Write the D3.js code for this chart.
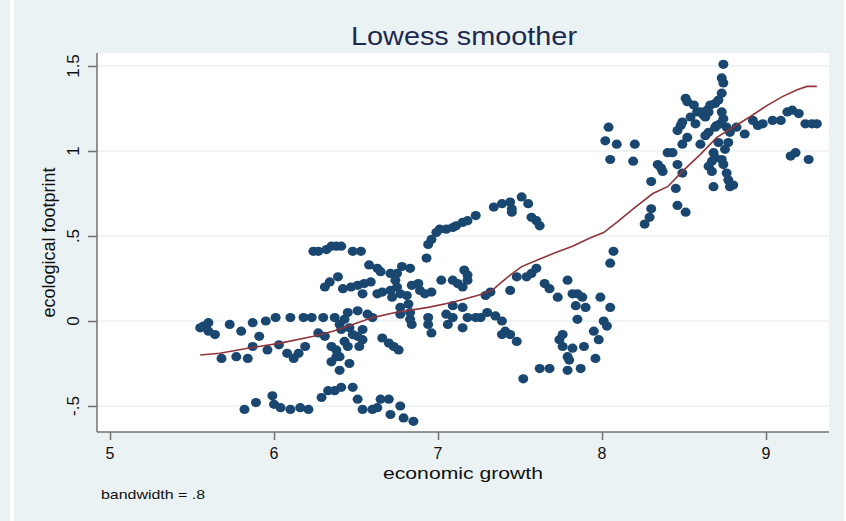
<!DOCTYPE html>
<html>
<head>
<meta charset="utf-8">
<script src="https://cdn.jsdelivr.net/npm/d3@7"></script>
<style>
  html, body { margin: 0; padding: 0; background: #eaf2f3; }
  svg { display: block; font-family: "Liberation Sans", Arial, sans-serif; }
</style>
</head>
<body>
<svg id="chart" width="846" height="521"></svg>
<script>
// ---- data ----
const chartTitle = "Lowess smoother";
const xLabel = "economic growth";
const yLabel = "ecological footprint";
const note = "bandwidth = .8";

const xTicks = [5, 6, 7, 8, 9];
const xTickLabels = ["5", "6", "7", "8", "9"];
const yTicks = [-0.5, 0, 0.5, 1, 1.5];
const yTickLabels = ["-.5", "0", ".5", "1", "1.5"];

// economic growth (x) of each observation
const economicGrowth = [
  5.55,5.57,5.60,5.60,5.64,5.73,5.80,5.87,5.95,6.01,
  6.10,6.18,6.23,6.30,6.37,6.45,6.51,6.57,6.60,5.68,
  5.77,5.84,5.87,5.91,5.96,6.03,6.08,6.12,6.15,6.19,
  5.82,5.89,5.99,6.00,6.04,6.10,6.16,6.21,6.29,6.33,
  6.37,6.41,6.48,6.51,6.54,6.60,6.63,6.65,6.70,6.71,
  6.77,6.79,6.85,6.24,6.27,6.32,6.35,6.38,6.41,6.48,
  6.53,6.58,6.63,6.65,6.71,6.78,6.83,6.31,6.34,6.39,
  6.42,6.47,6.51,6.55,6.59,6.54,6.63,6.66,6.71,6.72,
  6.75,6.77,6.81,6.84,6.75,6.74,6.88,6.89,6.92,6.96,
  7.02,7.09,7.12,7.15,7.16,7.18,7.18,6.27,6.31,6.35,
  6.40,6.43,6.46,6.48,6.43,6.45,6.51,6.54,6.54,6.52,
  6.38,6.35,6.40,6.40,6.46,6.41,6.38,6.66,6.70,6.73,
  6.76,6.77,6.83,6.84,6.77,6.82,6.83,6.94,6.94,6.96,
  7.05,7.06,7.09,7.15,7.09,7.15,7.18,7.23,7.26,7.30,
  7.35,7.39,7.41,7.44,7.48,7.39,7.29,7.32,6.93,6.94,
  6.96,6.99,7.01,7.05,7.09,7.11,7.15,7.18,7.23,7.34,
  7.39,7.44,7.45,7.45,7.51,7.55,7.57,7.60,7.62,7.44,
  7.48,7.54,7.57,7.60,7.65,7.68,7.73,7.79,7.82,7.85,
  7.88,7.84,7.90,7.85,7.99,8.05,8.01,8.03,7.95,7.98,
  7.76,7.74,7.76,7.82,7.89,7.79,7.80,7.96,7.62,7.68,
  7.79,7.87,7.52,8.07,8.05,8.04,8.02,8.09,8.20,8.05,
  8.19,8.74,8.73,8.74,8.73,8.71,8.69,8.66,8.64,8.62,
  8.60,8.56,8.51,8.52,8.58,8.54,8.49,8.48,8.46,8.57,
  8.63,8.65,8.73,8.74,8.72,8.70,8.69,8.65,8.63,8.52,
  8.49,8.60,8.76,8.78,8.82,8.87,8.71,8.77,8.75,8.68,
  8.69,8.67,8.73,8.74,8.65,8.67,8.76,8.77,8.78,8.80,
  8.68,8.92,8.95,8.98,9.04,9.09,9.13,9.16,9.20,9.24,
  9.28,9.31,9.15,9.18,9.26,8.40,8.43,8.34,8.36,8.37,
  8.30,8.46,8.49,8.45,8.30,8.29,8.26,8.46,8.51
];

// ecological footprint (y) of each observation
const ecologicalFootprint = [
  -0.04,-0.03,-0.01,-0.06,-0.08,-0.02,-0.06,-0.01,0.00,0.02,
  0.02,0.02,0.02,0.02,0.02,0.05,0.06,0.04,0.02,-0.22,
  -0.21,-0.22,-0.15,-0.09,-0.17,-0.14,-0.19,-0.22,-0.19,-0.15,
  -0.52,-0.48,-0.44,-0.49,-0.51,-0.52,-0.51,-0.52,-0.45,-0.41,
  -0.41,-0.39,-0.39,-0.46,-0.52,-0.52,-0.51,-0.46,-0.46,-0.55,
  -0.50,-0.57,-0.59,0.41,0.41,0.42,0.44,0.44,0.44,0.41,
  0.41,0.33,0.31,0.29,0.28,0.32,0.31,0.20,0.23,0.26,
  0.19,0.20,0.21,0.22,0.23,0.16,0.16,0.17,0.18,0.14,
  0.20,0.16,0.15,0.21,0.28,0.24,0.22,0.18,0.16,0.17,
  0.24,0.24,0.22,0.20,0.30,0.27,0.24,-0.07,-0.09,-0.15,
  -0.02,0.01,-0.04,-0.08,-0.12,-0.15,-0.09,-0.05,-0.11,-0.15,
  -0.21,-0.24,-0.21,-0.29,-0.25,-0.05,-0.17,-0.10,-0.13,-0.15,
  -0.17,0.04,0.01,-0.02,0.08,0.10,0.05,0.02,-0.02,-0.07,
  0.04,-0.02,0.09,0.08,0.02,-0.04,0.02,0.02,0.02,0.05,
  0.03,0.00,-0.06,-0.08,-0.12,-0.08,0.15,0.17,0.37,0.45,
  0.48,0.52,0.54,0.54,0.55,0.56,0.58,0.59,0.62,0.67,
  0.69,0.70,0.66,0.64,0.73,0.69,0.61,0.59,0.56,0.18,
  0.26,0.26,0.28,0.31,0.22,0.19,0.14,0.24,0.16,0.16,
  0.14,0.09,0.08,0.01,0.14,0.08,0.00,-0.03,-0.06,-0.11,
  -0.08,-0.11,-0.15,-0.16,-0.15,-0.21,-0.23,-0.22,-0.28,-0.28,
  -0.29,-0.28,-0.34,0.41,0.34,1.14,1.06,1.04,1.04,0.95,
  0.94,1.51,1.43,1.40,1.34,1.30,1.28,1.27,1.24,1.21,
  1.23,1.27,1.31,1.29,1.23,1.20,1.17,1.15,1.12,1.16,
  1.20,1.23,1.23,1.19,1.16,1.15,1.14,1.11,1.09,1.08,
  1.04,1.04,1.14,1.11,1.14,1.10,1.05,1.05,1.01,0.99,
  0.96,0.94,0.95,0.92,0.91,0.88,0.87,0.83,0.79,0.80,
  0.79,1.18,1.15,1.16,1.18,1.18,1.23,1.24,1.22,1.16,
  1.16,1.16,0.97,0.99,0.95,0.99,0.99,0.92,0.90,0.88,
  0.82,0.92,0.87,0.78,0.66,0.61,0.57,0.68,0.64
];

// lowess smoothed curve
const lowessX = [5.55,5.67,5.84,6.04,6.24,6.36,6.48,6.60,6.74,6.94,7.09,7.24,7.33,7.39,7.44,7.51,7.61,7.71,7.82,7.93,8.01,8.09,8.19,8.31,8.40,8.49,8.60,8.70,8.80,8.90,9.01,9.10,9.19,9.25,9.31];
const lowessY = [-0.20,-0.19,-0.16,-0.13,-0.09,-0.06,-0.02,0.02,0.05,0.08,0.11,0.15,0.18,0.23,0.27,0.32,0.36,0.40,0.44,0.49,0.52,0.58,0.66,0.75,0.79,0.88,0.98,1.08,1.14,1.20,1.27,1.32,1.36,1.38,1.38];

// ---- drawing ----
const svg = d3.select("#chart");
const W = 846, H = 521;
const plot = { left: 97, right: 829, top: 53, bottom: 432 };

const x = d3.scaleLinear().domain([4.9207, 9.3841]).range([plot.left, plot.right]);
const y = d3.scaleLinear().domain([-0.6529, 1.5765]).range([plot.bottom, plot.top]);

// background
svg.append("rect").attr("width", W).attr("height", H).attr("fill", "#eaf2f3");
svg.append("rect").attr("x", 10).attr("y", 0).attr("width", 4).attr("height", H).attr("fill", "#ffffff");
svg.append("rect").attr("x", 844).attr("y", 0).attr("width", 2).attr("height", H).attr("fill", "#ffffff");

// plot region
svg.append("rect")
  .attr("x", plot.left).attr("y", plot.top)
  .attr("width", plot.right - plot.left).attr("height", plot.bottom - plot.top)
  .attr("fill", "#ffffff");

// gridlines
svg.append("g").selectAll("line").data(yTicks).join("line")
  .attr("x1", plot.left).attr("x2", plot.right)
  .attr("y1", d => y(d)).attr("y2", d => y(d))
  .attr("stroke", "#eaf2f3").attr("stroke-width", 1.5);

// axes
const yAxis = svg.append("g").attr("transform", `translate(${plot.left},0)`)
  .call(d3.axisLeft(y).tickValues(yTicks).tickSize(9).tickSizeOuter(0).tickFormat(""));
const xAxis = svg.append("g").attr("transform", `translate(0,${plot.bottom})`)
  .call(d3.axisBottom(x).tickValues(xTicks).tickSize(8).tickSizeOuter(0).tickFormat(""));
[yAxis, xAxis].forEach(g => {
  g.selectAll("path, line").attr("stroke", "#707070").attr("stroke-width", 1.5);
});
yAxis.select("path.domain").attr("d", `M0,${plot.top}V${plot.bottom}`);
xAxis.select("path.domain").attr("d", `M${plot.left},0H${plot.right}`);

// tick labels
svg.append("g").selectAll("text").data(yTicks).join("text")
  .attr("transform", d => `translate(79,${y(d)}) rotate(-90)`)
  .attr("text-anchor", "middle")
  .attr("font-size", 17).attr("fill", "#111")
  .text((d, i) => yTickLabels[i]);

svg.append("g").selectAll("text").data(xTicks).join("text")
  .attr("x", d => x(d)).attr("y", 459)
  .attr("text-anchor", "middle")
  .attr("font-size", 16).attr("fill", "#111")
  .text((d, i) => xTickLabels[i]);

// scatter
const pts = d3.range(Math.min(economicGrowth.length, ecologicalFootprint.length))
  .map(i => [economicGrowth[i], ecologicalFootprint[i]]);
svg.append("g").selectAll("ellipse").data(pts).join("ellipse")
  .attr("cx", d => x(d[0])).attr("cy", d => y(d[1]))
  .attr("rx", 5).attr("ry", 4.6)
  .attr("fill", "#1a476f");

// lowess line
const line = d3.line().x(d => x(d[0])).y(d => y(d[1]));
svg.append("path")
  .datum(lowessX.map((v, i) => [v, lowessY[i]]))
  .attr("d", line)
  .attr("fill", "none").attr("stroke", "#90353b").attr("stroke-width", 1.6);

// titles
svg.append("text")
  .attr("x", (plot.left + plot.right) / 2 + 1).attr("y", 45)
  .attr("text-anchor", "middle").attr("font-size", 26)
  .attr("textLength", 226).attr("lengthAdjust", "spacingAndGlyphs")
  .attr("fill", "#1e2a4f").text(chartTitle);

svg.append("text")
  .attr("x", (plot.left + plot.right) / 2).attr("y", 479)
  .attr("text-anchor", "middle").attr("font-size", 17)
  .attr("textLength", 160).attr("lengthAdjust", "spacingAndGlyphs")
  .attr("fill", "#111").text(xLabel);

svg.append("text")
  .attr("transform", `translate(55,${(plot.top + plot.bottom) / 2}) rotate(-90)`)
  .attr("text-anchor", "middle").attr("font-size", 18)
  .attr("fill", "#111").text(yLabel);

svg.append("text")
  .attr("x", 101).attr("y", 499)
  .attr("font-size", 13)
  .attr("textLength", 104).attr("lengthAdjust", "spacingAndGlyphs")
  .attr("fill", "#111").text(note);
</script>
</body>
</html>
